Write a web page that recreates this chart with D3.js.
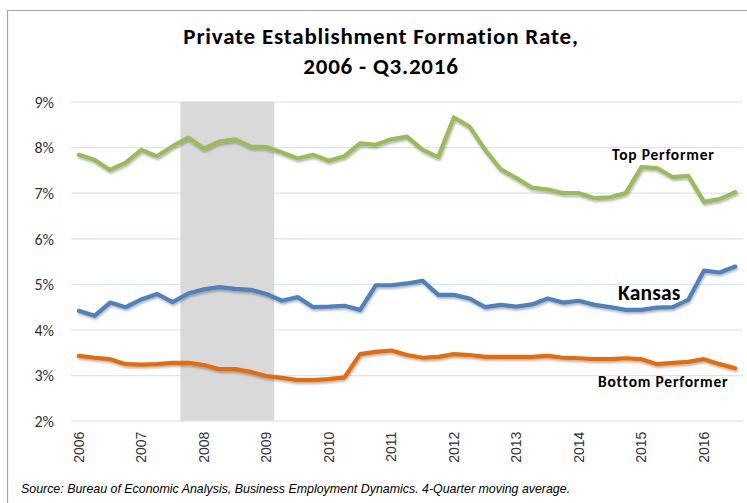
<!DOCTYPE html>
<html><head><meta charset="utf-8">
<script src="https://cdn.jsdelivr.net/npm/d3@7"></script>
<style>
html,body{margin:0;padding:0;background:#fff;}
svg{display:block;}
</style></head>
<body><svg id="chart" width="747" height="503"></svg>
<script>
// ---- data ----
const years = [2006,2007,2008,2009,2010,2011,2012,2013,2014,2015,2016];
const quarters = []; // 2006Q1 .. 2016Q3
years.forEach(y => [1,2,3,4].forEach(q => { if (!(y === 2016 && q === 4)) quarters.push(y + "Q" + q); }));

const topPerformer = [7.83,7.72,7.50,7.66,7.94,7.80,8.02,8.21,7.97,8.12,8.17,8.01,8.00,7.88,7.75,7.83,7.70,7.80,8.08,8.05,
  8.17,8.23,7.94,7.78,8.65,8.45,7.94,7.51,7.32,7.11,7.07,6.99,6.99,6.88,6.90,6.99,7.56,7.54,7.34,7.37,6.80,6.86,7.01];
const kansas = [4.41,4.30,4.59,4.49,4.66,4.78,4.60,4.79,4.88,4.93,4.89,4.87,4.78,4.63,4.71,4.49,4.50,4.52,4.43,4.97,
  4.97,5.01,5.07,4.76,4.76,4.68,4.49,4.54,4.50,4.55,4.68,4.59,4.63,4.54,4.49,4.43,4.43,4.48,4.49,4.65,5.29,5.25,5.38];
const bottomPerformer = [3.42,3.38,3.35,3.24,3.23,3.24,3.27,3.27,3.22,3.13,3.13,3.07,2.98,2.94,2.89,2.89,2.91,2.95,3.46,3.51,
  3.54,3.44,3.38,3.40,3.46,3.44,3.40,3.40,3.40,3.40,3.42,3.38,3.37,3.35,3.35,3.37,3.35,3.24,3.27,3.29,3.35,3.24,3.15];
const yTicks = [2,3,4,5,6,7,8,9];
const recession = ["2007Q4","2009Q1"];
const titleLines = ["Private Establishment Formation Rate,", "2006 - Q3.2016"];
const source = "Source: Bureau of Economic Analysis, Business Employment Dynamics. 4-Quarter moving average.";

const series = [
  {name:"Top Performer", values: topPerformer, color:"#9bbb59"},
  {name:"Kansas", values: kansas, color:"#4f81bd"},
  {name:"Bottom Performer", values: bottomPerformer, color:"#e46c0a"}
];

// ---- layout ----
const svg = d3.select("#chart");
const plot = {left:71, right:743, top:101.5, bottom:420.7};
const sans = "Carlito, Lato, 'Open Sans', sans-serif";

const x = d3.scaleBand().domain(quarters).range([plot.left, plot.right]).padding(0);
const cx = q => x(q) + x.bandwidth()/2;
const y = d3.scaleLinear().domain([2,9]).range([plot.bottom, plot.top]);

const defs = svg.append("defs");
const f = defs.append("filter").attr("id","shadow").attr("x","-5%").attr("y","-20%").attr("width","110%").attr("height","140%");
f.append("feDropShadow").attr("dx",0.8).attr("dy",1.8).attr("stdDeviation",0.9).attr("flood-color","#000").attr("flood-opacity",0.3);

// frame
svg.append("path").attr("d","M7.5,503 V10.5 H747").attr("fill","none").attr("stroke","#a6a6a6").attr("stroke-width",1.2);

// title
const title = svg.append("text").attr("text-anchor","middle")
  .style("font-family",sans).style("font-weight","bold").style("font-size","23px")
  .style("letter-spacing","0.8px").attr("fill","#000");
titleLines.forEach((t,i) => title.append("tspan").attr("x",381).attr("y",44 + i*29.5).text(t));

// gridlines + y axis
const yAxis = d3.axisLeft(y).tickValues(yTicks).tickSize(-(plot.right - plot.left)).tickFormat(d => d + "%");
const gy = svg.append("g").attr("transform",`translate(${plot.left},0)`).call(yAxis);
gy.select(".domain").remove();
gy.selectAll(".tick line").attr("stroke","#dce6f2").attr("stroke-width",1.2);
gy.selectAll(".tick text").attr("x",-17).attr("dy","0.36em").attr("fill","#333")
  .style("font-family",sans).style("font-size","16px");

// recession shading (covers gridlines)
svg.append("rect")
  .attr("x", x(recession[0])).attr("width", x(recession[1]) + x.bandwidth() - x(recession[0]))
  .attr("y", y(9)).attr("height", y(2) - y(9)).attr("fill","#d9d9d9");

// x axis
const xAxis = d3.axisBottom(x).tickValues(quarters.filter(q => q.endsWith("Q1"))).tickSize(0).tickFormat(q => q.slice(0,4));
const gx = svg.append("g").attr("transform",`translate(0,${plot.bottom})`).call(xAxis);
gx.select(".domain").remove();
gx.selectAll(".tick text").attr("transform","rotate(-90)").attr("text-anchor","end")
  .attr("x",-11).attr("y",0).attr("dy","0.36em").attr("fill","#333")
  .style("font-family","'Liberation Sans', Arial, sans-serif").style("font-size","14px");

// lines
const line = d3.line().x((d,i) => cx(quarters[i])).y(d => y(d));
series.forEach(s => {
  svg.append("path").datum(s.values).attr("d", line)
    .attr("fill","none").attr("stroke", s.color).attr("stroke-width",4.2)
    .attr("stroke-linejoin","round").attr("stroke-linecap","round").attr("filter","url(#shadow)");
});

// series labels
const lab = (t, xx, yy, size, ls) => svg.append("text").attr("x",xx).attr("y",yy).text(t)
  .style("font-family",sans).style("font-weight","bold").style("font-size",size+"px")
  .style("letter-spacing",ls+"px").attr("fill","#000");
lab("Top Performer", 612, 160, 15.5, 0.8);
lab("Kansas", 618, 300, 21.5, 0.2);
lab("Bottom Performer", 598, 387, 15.5, 0.8);

// source
svg.append("text").attr("x",21).attr("y",493).text(source)
  .style("font-family","'Liberation Sans', Arial, sans-serif").style("font-style","italic").style("font-size","12.4px").attr("fill","#000");
</script>
</body></html>
